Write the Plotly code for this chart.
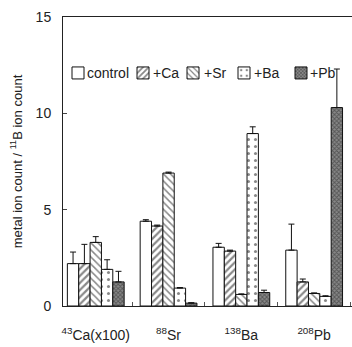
import plotly.graph_objects as go

categories = ["<sup>43</sup>Ca(x100)", "<sup>88</sup>Sr", "<sup>138</sup>Ba", "<sup>208</sup>Pb"]
series_names = ["control", "+Ca", "+Sr", "+Ba", "+Pb"]
control = [2.2, 4.4, 3.05, 2.9]
control_err = [0.6, 0.08, 0.2, 1.35]
ca = [2.2, 4.15, 2.85, 1.25]
ca_err = [1.0, 0.05, 0.05, 0.15]
sr = [3.3, 6.9, 0.6, 0.65]
sr_err = [0.3, 0.05, 0.03, 0.03]
ba = [1.9, 0.93, 8.95, 0.5]
ba_err = [0.5, 0.03, 0.35, 0.03]
pb = [1.25, 0.15, 0.7, 10.3]
pb_err = [0.55, 0.02, 0.12, 2.0]

values = [control, ca, sr, ba, pb]
errors = [control_err, ca_err, sr_err, ba_err, pb_err]
patterns = [
    dict(shape=""),
    dict(shape="/", size=5, solidity=0.45, fgcolor="#111"),
    dict(shape="\\", size=5, solidity=0.3, fgcolor="#111"),
    dict(shape=".", size=7, solidity=0.15, fgcolor="#111"),
    dict(shape="x", size=3, solidity=0.5, fgcolor="#222", bgcolor="#888"),
]
# legend layout (pixels): swatch centres and label starts
swatch_px = [78, 143, 193, 244, 301]
label_px = [85, 151, 202, 252, 308]
legend_y_px = 73

W, H = 352, 347
ML, MR, MT, MB = 63, 0, 17, 41
pw = W - ML - MR
ph = H - MT - MB

def px_to_xp(px):
    return (px - ML) / pw

def py_to_yp(py):
    return (H - MB - py) / ph

fig = go.Figure()
layout_legends = {}
annotations = []
for i, (name, v, e, p) in enumerate(zip(series_names, values, errors, patterns)):
    lname = "legend" if i == 0 else f"legend{i+1}"
    fig.add_trace(go.Bar(
        x=categories, y=v, name=" ", legend=lname,
        marker=dict(color="white", line=dict(color="#111", width=1), pattern=p),
        error_y=dict(type="data", array=e, symmetric=False, arrayminus=[0]*len(e),
                     color="#111", thickness=1, width=3),
    ))
    layout_legends[lname] = dict(
        x=px_to_xp(swatch_px[i] - 20), y=py_to_yp(legend_y_px),
        xanchor="left", yanchor="middle",
        bgcolor="rgba(0,0,0,0)", font=dict(size=13, color="#222"), itemwidth=30,
        borderwidth=0)
    annotations.append(dict(
        text=name, x=px_to_xp(label_px[i]), y=py_to_yp(legend_y_px),
        xref="paper", yref="paper", xanchor="left", yanchor="middle",
        showarrow=False, font=dict(size=14, color="#222")))

fig.update_layout(
    width=W, height=H,
    margin=dict(l=ML, r=MR, t=MT, b=MB),
    paper_bgcolor="white", plot_bgcolor="white",
    barmode="group", bargap=0.22, bargroupgap=0,
    font=dict(family="Liberation Sans, Arial", size=13, color="#222"),
    showlegend=True,
    annotations=annotations,
    xaxis=dict(range=[-0.45, 3.52], showline=True, linecolor="#222", linewidth=1,
               mirror=True, ticks="inside", tickson="boundaries", ticklen=4,
               tickcolor="#555", showgrid=False, ticklabelstandoff=16, tickangle=0,
               tickfont=dict(size=14)),
    yaxis=dict(range=[0, 15], tickvals=[0, 5, 10, 15], showline=True, linecolor="#222",
               linewidth=1, ticks="inside", ticklen=4, showgrid=False, zeroline=False,
               tickfont=dict(size=14), ticklabelstandoff=8,
               title=dict(text="metal ion count / <sup>11</sup>B ion count",
                          font=dict(size=13), standoff=10)),
    **layout_legends,
)

fig.write_html("out.html")
